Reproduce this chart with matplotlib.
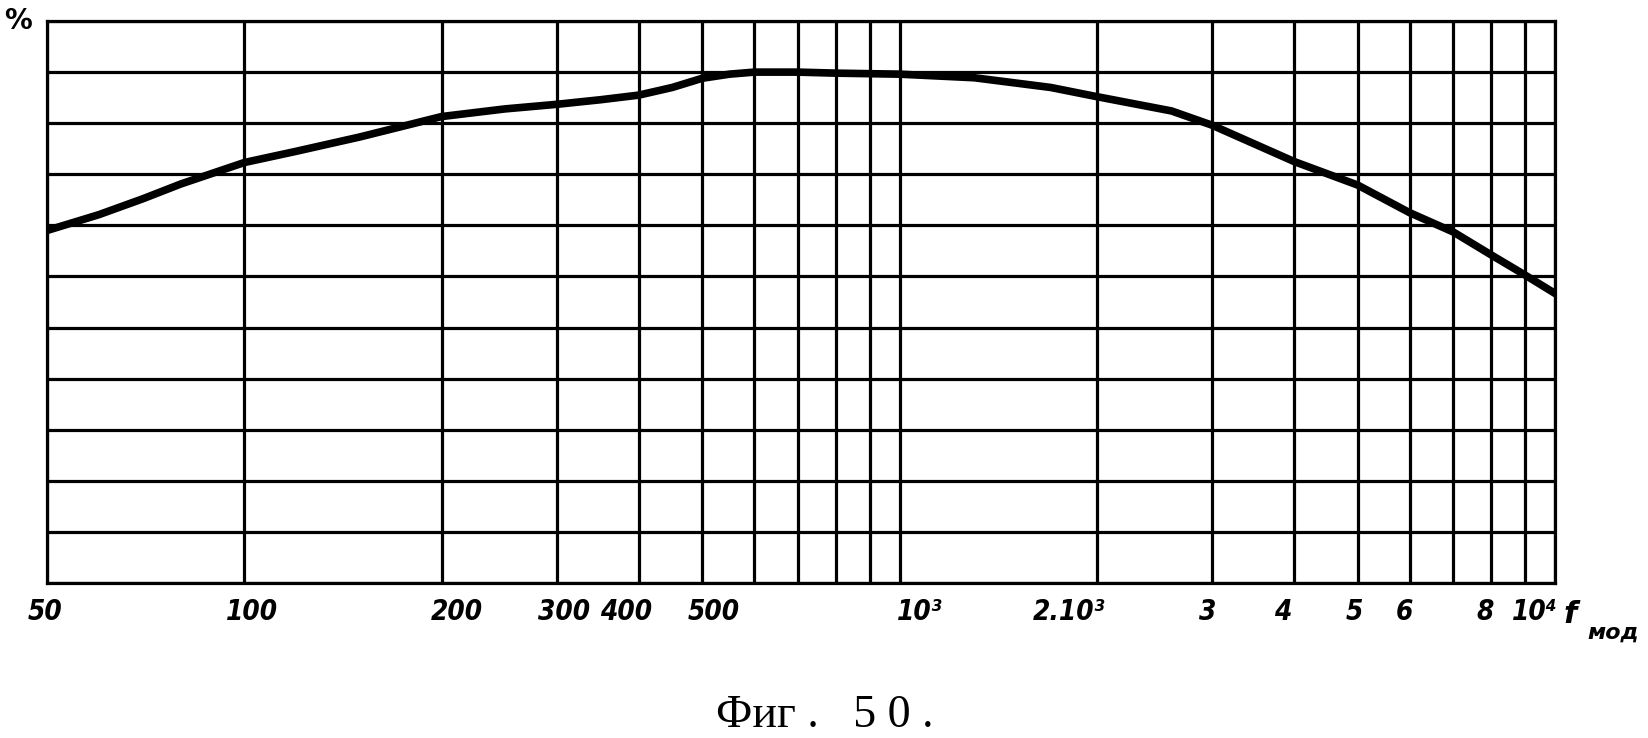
import matplotlib.pyplot as plt
from matplotlib.transforms import ScaledTranslation

# частота модуляции (Гц) и отклик (%)
freq = [50, 60, 70, 80, 100, 120, 150, 200, 250, 300, 350, 400, 450, 500, 550,
        600, 700, 800, 1000, 1300, 1700, 2000, 2600, 3000, 4000, 5000, 6000, 7000,
        8000, 9000, 10000]
otklik = [69, 72.1, 75.2, 78.1, 82.3, 84.5, 87.3, 91.3, 92.8, 93.7, 94.6, 95.5, 97,
          98.8, 99.6, 100, 100, 99.8, 99.6, 98.9, 97, 95.2, 92.4, 89.6, 82.5, 77.9,
          72.5, 68.7, 64.2, 60.3, 56.7]

tick_pos = [50, 100, 200, 300, 400, 500, 1000, 2000, 3000, 4000, 5000, 6000, 8000, 10000]
tick_lab = ['50', '100', '200', '300', '400', '500', '10³', '2.10³', '3', '4', '5', '6', '8', '10⁴']
minor_pos = [600, 700, 800, 900, 7000, 9000]
y_lines = list(range(0, 111, 10))

# сдвиг подписей как на рисунке (в пикселях)
lab_shift = [-2, 8, 15, 7, -13, 11, 20, -28, -5, -11, -3, -5, -6, -20]

fig = plt.figure(figsize=(16.48, 7.38), dpi=100)
ax = fig.add_axes([0.0285, 0.21, 0.915, 0.7615])

ax.plot(freq, otklik, color='black', linewidth=5.5, solid_joinstyle='round')

ax.set_xscale('log')
ax.set_xlim(50, 10000)
ax.set_ylim(0, 110)
ax.set_xticks(tick_pos)
ax.set_xticks(minor_pos, minor=True)
ax.set_xticklabels(tick_lab, fontsize=20, fontweight='bold', fontstyle='italic',
                   fontstretch='condensed')
ax.set_xticklabels([], minor=True)
ax.set_yticks(y_lines)
ax.set_yticklabels([])
ax.tick_params(which='both', length=0, pad=11)

for lab, dx in zip(ax.get_xticklabels(), lab_shift):
    lab.set_transform(lab.get_transform() + ScaledTranslation(dx / 100, 0, fig.dpi_scale_trans))

ax.grid(True, which='both', color='black', linewidth=2.3)
for s in ax.spines.values():
    s.set_linewidth(2.3)

fig.text(0.011, 0.972, '%', fontsize=20, fontweight='bold', ha='center', va='center')
fig.text(0.953, 0.168, 'f', fontsize=22, fontweight='bold', fontstyle='italic',
         ha='center', va='center')
fig.text(0.979, 0.143, 'мод', fontsize=16, fontweight='bold', fontstyle='italic',
         ha='center', va='center')

fig.text(0.5006, 0.015, 'Фиг .   5 0 .', fontsize=33, family=['Liberation Serif', 'DejaVu Serif'],
         ha='center', va='baseline')

plt.savefig('out.png', dpi=100)
